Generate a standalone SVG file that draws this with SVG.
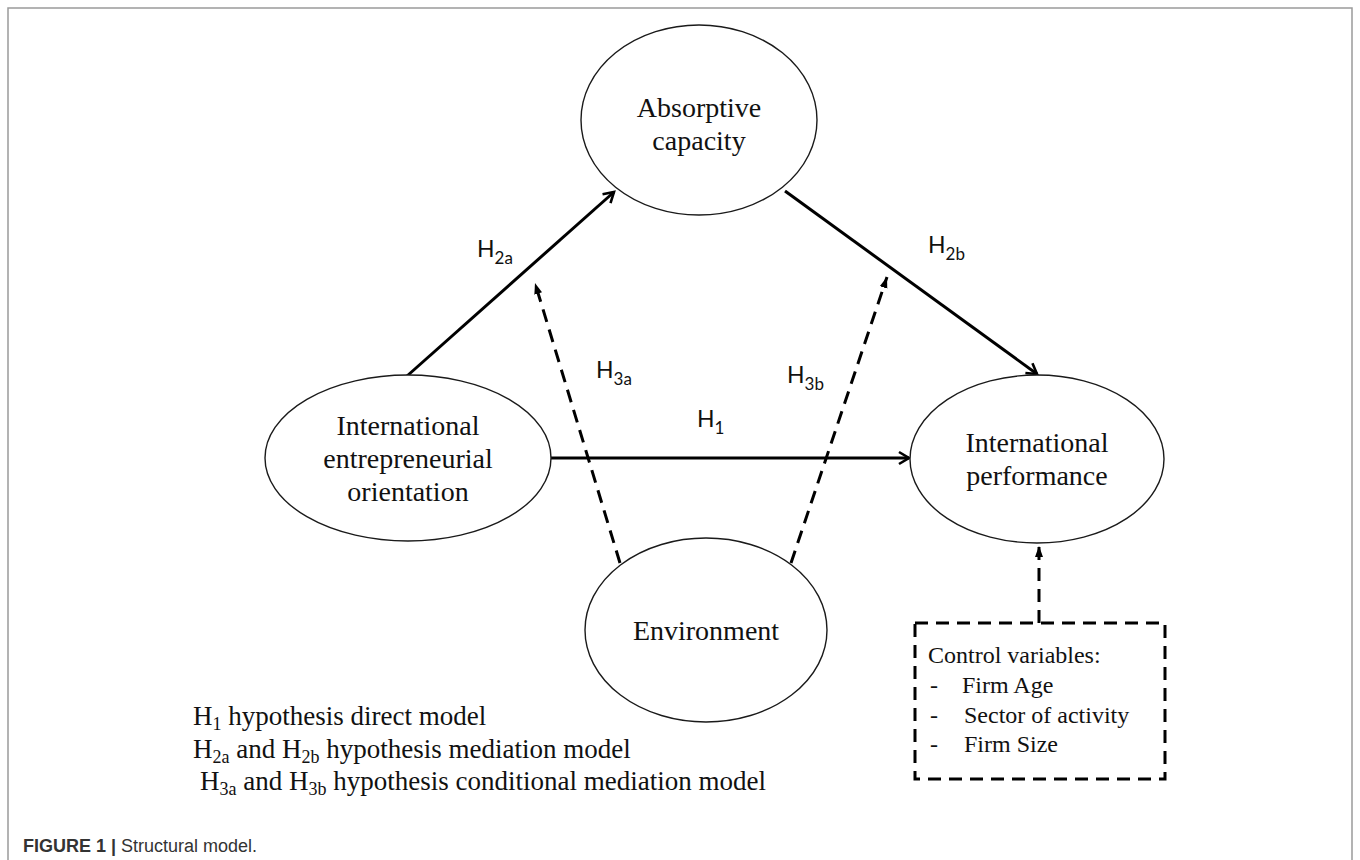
<svg xmlns="http://www.w3.org/2000/svg" width="1360" height="860" viewBox="0 0 1360 860">
<style>
.node ellipse{fill:#fff;stroke:#1a1a1a;stroke-width:1.4}
.lbl{font-family:"Liberation Serif","Times New Roman",serif;font-size:28px;fill:#111;text-anchor:middle}
.hl{font-family:Lato,"Open Sans",sans-serif;font-size:23px;fill:#111}
.hl tspan.s{font-size:17px}
.solid{stroke:#000;stroke-width:3;fill:none}
.dash{stroke:#000;stroke-width:3;fill:none;stroke-dasharray:13 8}
.legend{font-family:"Liberation Serif","Times New Roman",serif;font-size:27px;fill:#111}
.legend tspan.s{font-size:18px}
.ctrl{font-family:"Liberation Serif","Times New Roman",serif;font-size:24px;fill:#111}
.cap{font-family:"Liberation Sans",Arial,sans-serif;font-size:18px;fill:#333}
</style>
<defs>
<marker id="open" markerUnits="userSpaceOnUse" viewBox="0 0 16 16" markerWidth="16" markerHeight="16" refX="13" refY="8" orient="auto">
<path d="M3,2 L13,8 L3,14" fill="none" stroke="#000" stroke-width="2.6" stroke-dasharray="none"/>
</marker>
<marker id="tri" markerUnits="userSpaceOnUse" viewBox="0 0 12 10" markerWidth="12" markerHeight="10" refX="11" refY="5" orient="auto">
<path d="M0,1 L11,5 L0,9 Z" fill="#000" stroke="none"/>
</marker>
</defs>
<rect x="8" y="8" width="1344" height="880" fill="none" stroke="#9a9a9a" stroke-width="1.5"/>

<g id="connectors">
<line class="solid" x1="407" y1="376" x2="614" y2="192" marker-end="url(#open)"/>
<line class="solid" x1="785" y1="191" x2="1037" y2="374" marker-end="url(#open)"/>
<line class="solid" x1="550" y1="458" x2="909" y2="458" marker-end="url(#open)"/>
<line class="dash" x1="620" y1="563" x2="535" y2="283" marker-end="url(#tri)"/>
<line class="dash" x1="791" y1="563" x2="887" y2="277" marker-end="url(#tri)"/>
<line class="dash" x1="1039" y1="623" x2="1039" y2="546" marker-end="url(#tri)"/>
<text class="hl" x="477" y="257">H<tspan class="s" dy="7">2a</tspan></text>
<text class="hl" x="928" y="253">H<tspan class="s" dy="7">2b</tspan></text>
<text class="hl" x="596" y="378">H<tspan class="s" dy="7">3a</tspan></text>
<text class="hl" x="787" y="383">H<tspan class="s" dy="7">3b</tspan></text>
<text class="hl" x="697" y="427">H<tspan class="s" dy="7">1</tspan></text>
</g>

<g id="absorptive" class="node">
<ellipse cx="699" cy="120" rx="118" ry="95"/>
<text class="lbl" x="699" y="117">Absorptive</text>
<text class="lbl" x="699" y="150">capacity</text>
</g>

<g id="ieo" class="node">
<ellipse cx="408" cy="458" rx="143" ry="83"/>
<text class="lbl" x="408" y="435">International</text>
<text class="lbl" x="408" y="468">entrepreneurial</text>
<text class="lbl" x="408" y="501">orientation</text>
</g>

<g id="performance" class="node">
<ellipse cx="1037" cy="459" rx="127" ry="84"/>
<text class="lbl" x="1037" y="452">International</text>
<text class="lbl" x="1037" y="485">performance</text>
</g>

<g id="environment" class="node">
<ellipse cx="706" cy="630" rx="121" ry="92"/>
<text class="lbl" x="706" y="640">Environment</text>
</g>

<g id="controls">
<rect x="915" y="623" width="250" height="156" class="dash"/>
<text class="ctrl" x="928" y="663">Control variables:</text>
<text class="ctrl" x="930" y="693">-</text><text class="ctrl" x="962" y="693">Firm Age</text>
<text class="ctrl" x="930" y="723">-</text><text class="ctrl" x="964" y="723">Sector of activity</text>
<text class="ctrl" x="930" y="752">-</text><text class="ctrl" x="964" y="752">Firm Size</text>
</g>

<g id="legend">
<text class="legend" x="193" y="725">H<tspan class="s" dy="5">1</tspan><tspan dy="-5"> hypothesis direct model</tspan></text>
<text class="legend" x="193" y="758">H<tspan class="s" dy="5">2a</tspan><tspan dy="-5"> and H</tspan><tspan class="s" dy="5">2b</tspan><tspan dy="-5"> hypothesis mediation model</tspan></text>
<text class="legend" x="200" y="790">H<tspan class="s" dy="5">3a</tspan><tspan dy="-5"> and H</tspan><tspan class="s" dy="5">3b</tspan><tspan dy="-5"> hypothesis conditional mediation model</tspan></text>
</g>

<g id="caption">
<text class="cap" x="23" y="852"><tspan font-weight="bold">FIGURE 1 |</tspan> Structural model.</text>
</g>
</svg>
